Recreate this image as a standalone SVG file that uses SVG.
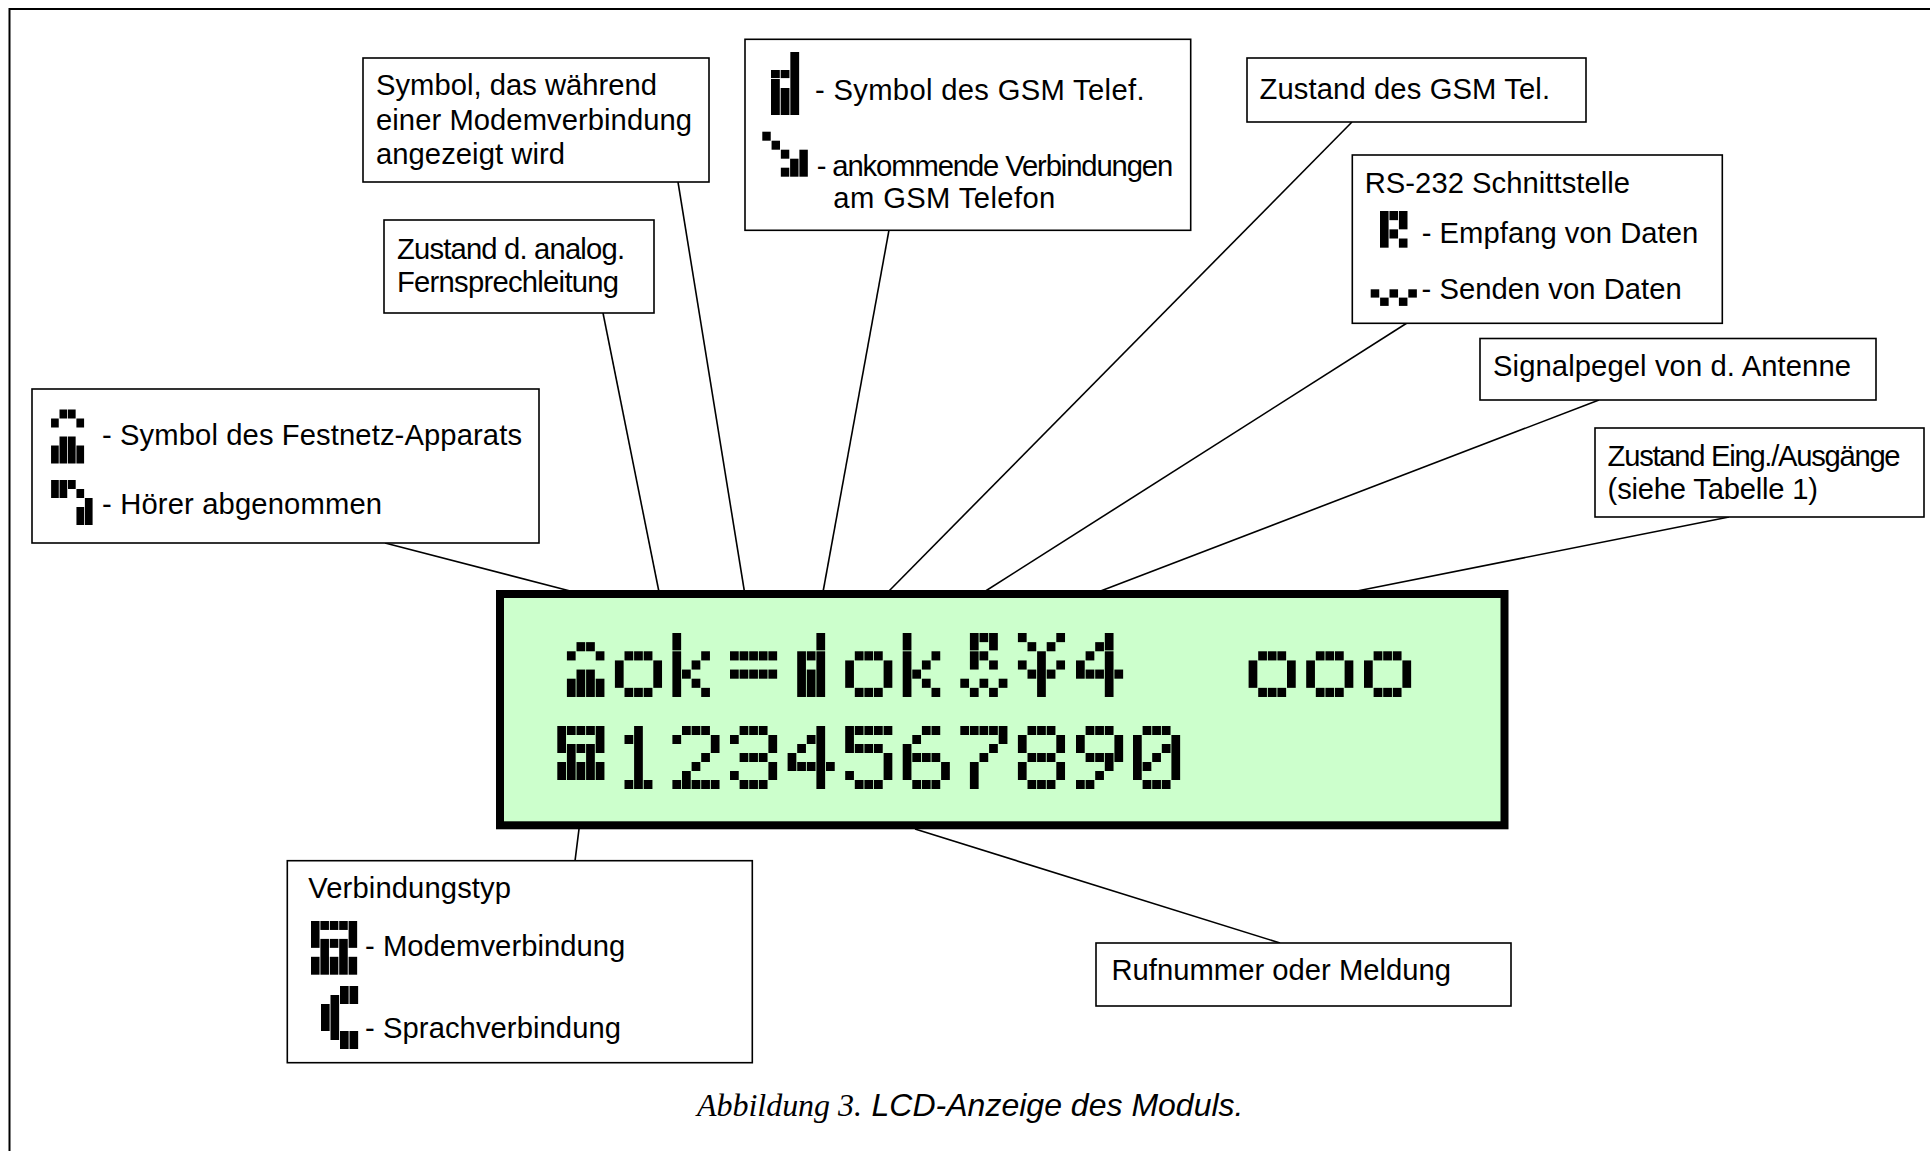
<svg xmlns="http://www.w3.org/2000/svg" xmlns:xlink="http://www.w3.org/1999/xlink" width="1930" height="1151" viewBox="0 0 1930 1151">
<style>
.t{font-family:"Liberation Sans",Arial,sans-serif;font-size:29.2px;fill:#000}
.box{fill:#fff;stroke:#000;stroke-width:1.6}
.frame{fill:none;stroke:#000;stroke-width:2}
.conn line{stroke:#000;stroke-width:1.6}
.px{fill:#000}
.px rect{width:.91px}
.cs{font-family:"Liberation Serif","Times New Roman",serif;font-style:italic;font-size:32px;fill:#000}
.ci{font-family:"Liberation Sans",Arial,sans-serif;font-style:italic;font-size:32px;fill:#000}
</style>
<defs>
<g id="g-set" class="px"><rect x="1" y="2" height="1"/><rect x="2" y="1" height="1"/><rect x="3" y="1" height="1"/><rect x="4" y="2" height="1"/><rect x="1" y="5" height="2"/><rect x="2" y="4" height="3"/><rect x="3" y="4" height="3"/><rect x="4" y="5" height="2"/></g>
<g id="g-o" class="px"><rect x="0" y="3" height="3"/><rect x="1" y="2" height="1"/><rect x="2" y="2" height="1"/><rect x="3" y="2" height="1"/><rect x="1" y="6" height="1"/><rect x="2" y="6" height="1"/><rect x="3" y="6" height="1"/><rect x="4" y="3" height="3"/></g>
<g id="g-k" class="px"><rect x="0" y="0" height="1.9"/><rect x="0" y="2" height="5"/><rect x="1" y="4" height="1"/><rect x="2" y="3" height="1"/><rect x="2" y="5" height="1"/><rect x="3" y="2" height="1"/><rect x="3" y="6" height="1"/></g>
<g id="g-eq" class="px"><rect x="0" y="2" height="1"/><rect x="1" y="2" height="1"/><rect x="2" y="2" height="1"/><rect x="3" y="2" height="1"/><rect x="4" y="2" height="1"/><rect x="0" y="4" height="1"/><rect x="1" y="4" height="1"/><rect x="2" y="4" height="1"/><rect x="3" y="4" height="1"/><rect x="4" y="4" height="1"/></g>
<g id="g-gsm" class="px"><rect x="3" y="0" height="1.9"/><rect x="1" y="2" height="5"/><rect x="2" y="2" height="1"/><rect x="2" y="4" height="3"/><rect x="3" y="2" height="5"/></g>
<g id="g-rx" class="px"><rect x="1" y="0" height="1.9"/><rect x="2" y="0" height="1"/><rect x="3" y="0" height="1.9"/><rect x="1" y="2" height="2"/><rect x="2" y="2" height="1"/><rect x="3" y="3" height="1"/><rect x="0" y="5" height="1"/><rect x="2" y="5" height="1"/><rect x="4" y="5" height="1"/><rect x="1" y="6" height="1"/><rect x="3" y="6" height="1"/></g>
<g id="g-yen" class="px"><rect x="0" y="0" height="1"/><rect x="4" y="0" height="1"/><rect x="1" y="1" height="1"/><rect x="3" y="1" height="1"/><rect x="2" y="2" height="5"/><rect x="0" y="3" height="1"/><rect x="4" y="3" height="1"/><rect x="1" y="4" height="1"/><rect x="3" y="4" height="1"/></g>
<g id="g-4a" class="px"><rect x="3" y="0" height="1.9"/><rect x="3" y="2" height="5"/><rect x="2" y="1" height="1"/><rect x="1" y="2" height="1"/><rect x="0" y="3" height="2"/><rect x="1" y="4" height="1"/><rect x="2" y="4" height="1"/><rect x="4" y="4" height="1"/></g>
<g id="g-modem" class="px"><rect x="0" y="0" height="3"/><rect x="0" y="4" height="2"/><rect x="1" y="0" height="1"/><rect x="1" y="2" height="4"/><rect x="2" y="0" height="1"/><rect x="2" y="2" height="1"/><rect x="2" y="4" height="2"/><rect x="3" y="0" height="1"/><rect x="3" y="2" height="4"/><rect x="4" y="0" height="3"/><rect x="4" y="4" height="2"/></g>
<g id="g-1" class="px"><rect x="1" y="1" height="1"/><rect x="2" y="0" height="7"/><rect x="1" y="6" height="1"/><rect x="3" y="6" height="1"/></g>
<g id="g-2" class="px"><rect x="0" y="1" height="1"/><rect x="0" y="6" height="1"/><rect x="1" y="0" height="1"/><rect x="1" y="5" height="2"/><rect x="2" y="0" height="1"/><rect x="2" y="4" height="1"/><rect x="2" y="6" height="1"/><rect x="3" y="0" height="1"/><rect x="3" y="3" height="1"/><rect x="3" y="6" height="1"/><rect x="4" y="1" height="2"/><rect x="4" y="6" height="1"/></g>
<g id="g-3" class="px"><rect x="0" y="1" height="1"/><rect x="0" y="5" height="1"/><rect x="1" y="0" height="1"/><rect x="1" y="3" height="1"/><rect x="1" y="6" height="1"/><rect x="2" y="0" height="1"/><rect x="2" y="3" height="1"/><rect x="2" y="6" height="1"/><rect x="3" y="0" height="1"/><rect x="3" y="3" height="1"/><rect x="3" y="6" height="1"/><rect x="4" y="1" height="2"/><rect x="4" y="4" height="2"/></g>
<g id="g-4" class="px"><rect x="3" y="0" height="7"/><rect x="2" y="1" height="1"/><rect x="1" y="2" height="1"/><rect x="0" y="3" height="2"/><rect x="1" y="4" height="1"/><rect x="2" y="4" height="1"/><rect x="4" y="4" height="1"/></g>
<g id="g-5" class="px"><rect x="0" y="0" height="3"/><rect x="0" y="5" height="1"/><rect x="1" y="0" height="1"/><rect x="1" y="2" height="1"/><rect x="1" y="6" height="1"/><rect x="2" y="0" height="1"/><rect x="2" y="2" height="1"/><rect x="2" y="6" height="1"/><rect x="3" y="0" height="1"/><rect x="3" y="2" height="1"/><rect x="3" y="6" height="1"/><rect x="4" y="0" height="1"/><rect x="4" y="3" height="3"/></g>
<g id="g-6" class="px"><rect x="0" y="2" height="4"/><rect x="1" y="1" height="1"/><rect x="1" y="3" height="1"/><rect x="1" y="6" height="1"/><rect x="2" y="0" height="1"/><rect x="2" y="3" height="1"/><rect x="2" y="6" height="1"/><rect x="3" y="0" height="1"/><rect x="3" y="3" height="1"/><rect x="3" y="6" height="1"/><rect x="4" y="4" height="2"/></g>
<g id="g-7" class="px"><rect x="0" y="0" height="1"/><rect x="1" y="0" height="1"/><rect x="2" y="0" height="1"/><rect x="3" y="0" height="1"/><rect x="4" y="0" height="2"/><rect x="3" y="2" height="1"/><rect x="2" y="3" height="1"/><rect x="1" y="4" height="3"/></g>
<g id="g-8" class="px"><rect x="0" y="1" height="2"/><rect x="0" y="4" height="2"/><rect x="1" y="0" height="1"/><rect x="1" y="3" height="1"/><rect x="1" y="6" height="1"/><rect x="2" y="0" height="1"/><rect x="2" y="3" height="1"/><rect x="2" y="6" height="1"/><rect x="3" y="0" height="1"/><rect x="3" y="3" height="1"/><rect x="3" y="6" height="1"/><rect x="4" y="1" height="2"/><rect x="4" y="4" height="2"/></g>
<g id="g-9" class="px"><rect x="0" y="1" height="2"/><rect x="0" y="6" height="1"/><rect x="1" y="0" height="1"/><rect x="1" y="3" height="1"/><rect x="1" y="6" height="1"/><rect x="2" y="0" height="1"/><rect x="2" y="3" height="1"/><rect x="2" y="5" height="1"/><rect x="3" y="0" height="1"/><rect x="3" y="3" height="2"/><rect x="4" y="1" height="3"/></g>
<g id="g-0" class="px"><rect x="0" y="1" height="5"/><rect x="1" y="0" height="1"/><rect x="1" y="4" height="1"/><rect x="1" y="6" height="1"/><rect x="2" y="0" height="1"/><rect x="2" y="3" height="1"/><rect x="2" y="6" height="1"/><rect x="3" y="0" height="1"/><rect x="3" y="2" height="1"/><rect x="3" y="6" height="1"/><rect x="4" y="1" height="5"/></g>
</defs>
<rect width="1930" height="1151" fill="#fff"/>
<path id="frame" class="frame" d="M9.5 1151V9H1930"/>
<g id="connectors" class="conn">
<line x1="385" y1="543" x2="574" y2="592"/>
<line x1="603" y1="313" x2="659" y2="592"/>
<line x1="678" y1="182" x2="744.5" y2="592"/>
<line x1="889" y1="230" x2="823" y2="592"/>
<line x1="1352" y1="122" x2="888" y2="592"/>
<line x1="1407" y1="323" x2="984" y2="592"/>
<line x1="1599" y1="400" x2="1098" y2="592"/>
<line x1="1729" y1="517" x2="1352" y2="592"/>
<line x1="579" y1="829" x2="575" y2="861"/>
<line x1="915" y1="829" x2="1280" y2="943"/>
</g>
<g id="node-festnetz">
<rect class="box" x="32" y="389" width="507" height="154"/>
<use href="#g-set" transform="translate(42.6 400.5) scale(8.45 9)"/>
<g class="px" transform="translate(51.1 480) scale(8.45 9)"><rect x="0" y="0" height="2"/><rect x="1" y="0" height="2"/><rect x="2" y="0" height="1"/><rect x="3" y="1" height="1"/><rect x="3" y="3" height="2"/><rect x="4" y="2" height="3"/></g>
<text class="t" x="102" y="445" textLength="420">- Symbol des Festnetz-Apparats</text>
<text class="t" x="102" y="514.3" textLength="280">- Hörer abgenommen</text>
</g>
<g id="node-modemsymbol">
<rect class="box" x="363" y="58" width="346" height="124"/>
<text class="t" x="376" y="95" textLength="281">Symbol, das während</text>
<text class="t" x="376" y="129.5" textLength="316">einer Modemverbindung</text>
<text class="t" x="376" y="164" textLength="189">angezeigt wird</text>
</g>
<g id="node-analog">
<rect class="box" x="384" y="220" width="270" height="93"/>
<text class="t" x="397" y="259" textLength="228">Zustand d. analog.</text>
<text class="t" x="397" y="292" textLength="222">Fernsprechleitung</text>
</g>
<g id="node-gsm">
<rect class="box" x="745" y="39.3" width="445.7" height="191"/>
<g class="px" transform="translate(771 52) scale(9.67 9)"><rect x="2" y="0" height="3"/><rect x="0" y="2" height=".9"/><rect x="1" y="2" height=".9"/><rect x="0" y="3" height="4"/><rect x="1" y="4" height="3"/><rect x="2" y="3" height="4"/></g>
<g class="px" transform="translate(762.3 131.7) scale(9.27 9)"><rect x="0" y="0" height="1"/><rect x="1" y="1" height="1"/><rect x="2" y="2" height="1"/><rect x="2" y="4" height="1"/><rect x="3" y="3" height="2"/><rect x="4" y="2" height="3"/></g>
<text class="t" x="815" y="100" textLength="329.5">- Symbol des GSM Telef.</text>
<text class="t" x="816.7" y="176" textLength="356.5">- ankommende Verbindungen</text>
<text class="t" x="833.3" y="208.3" textLength="222">am GSM Telefon</text>
</g>
<g id="node-gsmstate">
<rect class="box" x="1247" y="58" width="339" height="64"/>
<text class="t" x="1259.5" y="99" textLength="290.5">Zustand des GSM Tel.</text>
</g>
<g id="node-rs232">
<rect class="box" x="1352.3" y="155" width="370" height="168.3"/>
<text class="t" x="1364.7" y="192.7" textLength="265.3">RS-232 Schnittstelle</text>
<g class="px" transform="translate(1380 211) scale(9.45 9.17)"><rect x="0" y="0" height="4"/><rect x="1" y="0" height="1"/><rect x="1" y="2" height="1"/><rect x="2" y="0" height="2"/><rect x="2" y="3" height="1"/></g>
<text class="t" x="1421.7" y="242.7" textLength="276.5">- Empfang von Daten</text>
<g class="px" transform="translate(1370.7 289.3) scale(9.4 8.3)"><rect x="0" y="0" height="1"/><rect x="2" y="0" height="1"/><rect x="4" y="0" height="1"/><rect x="1" y="1" height="1"/><rect x="3" y="1" height="1"/></g>
<text class="t" x="1421.5" y="299" textLength="260.2">- Senden von Daten</text>
</g>
<g id="node-signal">
<rect class="box" x="1480" y="338.5" width="396" height="61.5"/>
<text class="t" x="1493" y="376" textLength="358">Signalpegel von d. Antenne</text>
</g>
<g id="node-io">
<rect class="box" x="1595" y="428" width="329" height="89"/>
<text class="t" x="1607.6" y="465.5" textLength="293">Zustand Eing./Ausgänge</text>
<text class="t" x="1607.6" y="499" textLength="210.4">(siehe Tabelle 1)</text>
</g>
<g id="node-lcd">
<rect x="500" y="594" width="1004.5" height="231.3" fill="#ccffcc" stroke="#000" stroke-width="8"/>
<use href="#g-set" transform="translate(557.3 633) scale(9.6 9.14)"/>
<use href="#g-o" transform="translate(614.9 633) scale(9.6 9.14)"/>
<use href="#g-k" transform="translate(672.4 633) scale(9.6 9.14)"/>
<use href="#g-eq" transform="translate(730 633) scale(9.6 9.14)"/>
<use href="#g-gsm" transform="translate(787.6 633) scale(9.6 9.14)"/>
<use href="#g-o" transform="translate(845.2 633) scale(9.6 9.14)"/>
<use href="#g-k" transform="translate(902.7 633) scale(9.6 9.14)"/>
<use href="#g-rx" transform="translate(960.3 633) scale(9.6 9.14)"/>
<use href="#g-yen" transform="translate(1017.9 633) scale(9.6 9.14)"/>
<use href="#g-4a" transform="translate(1076 633) scale(9.6 9.14)"/>
<use href="#g-o" transform="translate(1248.6 633) scale(9.6 9.14)"/>
<use href="#g-o" transform="translate(1306.2 633) scale(9.6 9.14)"/>
<use href="#g-o" transform="translate(1364 633) scale(9.6 9.14)"/>
<use href="#g-modem" transform="translate(557.3 726) scale(9.6 9)"/>
<use href="#g-1" transform="translate(614.9 726) scale(9.6 9)"/>
<use href="#g-2" transform="translate(672.4 726) scale(9.6 9)"/>
<use href="#g-3" transform="translate(730 726) scale(9.6 9)"/>
<use href="#g-4" transform="translate(787.6 726) scale(9.6 9)"/>
<use href="#g-5" transform="translate(845.2 726) scale(9.6 9)"/>
<use href="#g-6" transform="translate(902.7 726) scale(9.6 9)"/>
<use href="#g-7" transform="translate(960.3 726) scale(9.6 9)"/>
<use href="#g-8" transform="translate(1017.9 726) scale(9.6 9)"/>
<use href="#g-9" transform="translate(1076 726) scale(9.6 9)"/>
<use href="#g-0" transform="translate(1133 726) scale(9.6 9)"/>
</g>
<g id="node-verbindung">
<rect class="box" x="287.3" y="860.7" width="465" height="202"/>
<text class="t" x="308.3" y="897.7" textLength="202.7">Verbindungstyp</text>
<use href="#g-modem" transform="translate(311 921) scale(9.4 8.95)"/>
<text class="t" x="365" y="956" textLength="260.3">- Modemverbindung</text>
<g class="px" transform="translate(321 986) scale(9.5 9)"><rect x="0" y="2" height="3"/><rect x="1" y="1" height="5"/><rect x="2" y="0" height="2"/><rect x="2" y="5" height="2"/><rect x="3" y="0" height="2"/><rect x="3" y="5" height="2"/></g>
<text class="t" x="365" y="1037.7" textLength="256">- Sprachverbindung</text>
</g>
<g id="node-rufnummer">
<rect class="box" x="1096" y="943" width="415" height="63"/>
<text class="t" x="1111.5" y="980" textLength="339.5">Rufnummer oder Meldung</text>
</g>
<g id="caption">
<text class="cs" x="697" y="1116" textLength="165">Abbildung 3.</text>
<text class="ci" x="871.5" y="1116" textLength="372">LCD-Anzeige des Moduls.</text>
</g>
</svg>
